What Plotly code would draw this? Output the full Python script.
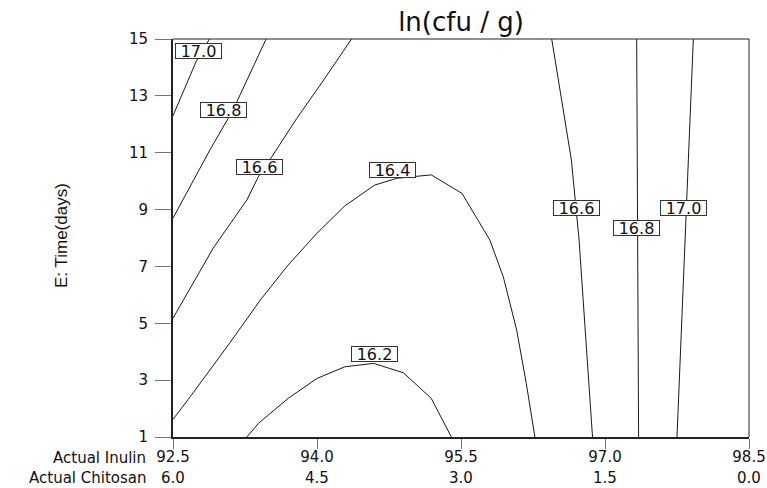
import plotly.graph_objects as go

# ---- data ----
inulin_ticks = [92.5, 94.0, 95.5, 97.0, 98.5]
inulin_tick_labels = ["92.5", "94.0", "95.5", "97.0", "98.5"]
chitosan_tick_labels = ["6.0", "4.5", "3.0", "1.5", "0.0"]
time_ticks = [1, 3, 5, 7, 9, 11, 13, 15]

# contour polylines (x = Actual Inulin, y = Time days)
c170_left_x = [92.50, 92.74, 92.88]
c170_left_y = [12.30, 14.20, 15.00]
c168_left_x = [92.50, 92.885, 93.125, 93.47]
c168_left_y = [8.70, 11.10, 12.50, 15.00]
c166_left_x = [92.50, 92.92, 93.27, 93.39, 93.53, 93.79, 94.07, 94.36]
c166_left_y = [5.18, 7.65, 9.34, 10.16, 10.86, 12.21, 13.56, 15.00]
c164_x = [92.50, 92.68, 93.09, 93.41, 93.70, 94.00, 94.29, 94.60, 94.83, 95.19,
          95.51, 95.80, 95.94, 96.08, 96.18, 96.27]
c164_y = [1.62, 2.42, 4.30, 5.82, 7.05, 8.17, 9.13, 9.86, 10.10, 10.22,
          9.57, 7.93, 6.64, 4.76, 2.89, 1.00]
c162_x = [93.27, 93.39, 93.70, 94.00, 94.29, 94.59, 94.90, 95.19, 95.40]
c162_y = [1.00, 1.48, 2.36, 3.06, 3.47, 3.59, 3.26, 2.36, 1.00]
c166_right_x = [96.445, 96.55, 96.65, 96.73, 96.79, 96.87]
c166_right_y = [15.00, 12.85, 10.74, 7.93, 5.00, 1.00]
c168_right_x = [97.33, 97.35]
c168_right_y = [15.00, 1.00]
c170_right_x = [97.92, 97.75]
c170_right_y = [15.00, 1.00]

# contour label texts and positions
label_text = ["17.0", "16.8", "16.6", "16.4", "16.2", "16.6", "16.8", "17.0"]
label_x = [92.77, 93.03, 93.40, 94.79, 94.60, 96.705, 97.325, 97.82]
label_y = [14.58, 12.50, 10.50, 10.39, 3.92, 9.07, 8.36, 9.07]

lines = [
    ("17.0", c170_left_x, c170_left_y),
    ("16.8", c168_left_x, c168_left_y),
    ("16.6", c166_left_x, c166_left_y),
    ("16.4", c164_x, c164_y),
    ("16.2", c162_x, c162_y),
    ("16.6", c166_right_x, c166_right_y),
    ("16.8", c168_right_x, c168_right_y),
    ("17.0", c170_right_x, c170_right_y),
]

FONT = "DejaVu Sans"

fig = go.Figure()
for name, xs, ys in lines:
    fig.add_trace(go.Scatter(x=xs, y=ys, mode="lines", name=name,
                             line=dict(color="#1a1a1a", width=1),
                             showlegend=False, hoverinfo="skip"))

annotations = []
for t, x, y in zip(label_text, label_x, label_y):
    annotations.append(dict(x=x, y=y, xref="x", yref="y", text=t, showarrow=False,
                            font=dict(family=FONT, size=16, color="#111"),
                            bgcolor="white", bordercolor="#333", borderwidth=1,
                            borderpad=0, width=45, height=14,
                            xanchor="center", yanchor="middle"))

# second row of x tick labels (Actual Chitosan)
ROW2_Y = -0.1281
for x, t in zip(inulin_ticks, chitosan_tick_labels):
    annotations.append(dict(x=x, y=ROW2_Y, xref="x", yref="paper", text=t,
                            showarrow=False, xanchor="center", yanchor="bottom",
                            borderpad=0,
                            font=dict(family=FONT, size=15, color="#111")))

annotations.append(dict(x=-0.046, y=-0.0528, xref="paper", yref="paper",
                        text="Actual Inulin", showarrow=False, xanchor="right",
                        yanchor="middle", borderpad=0,
                        font=dict(family=FONT, size=15, color="#111")))
annotations.append(dict(x=-0.046, y=ROW2_Y, xref="paper", yref="paper",
                        text="Actual Chitosan", showarrow=False, xanchor="right",
                        yanchor="bottom", borderpad=0,
                        font=dict(family=FONT, size=15, color="#111")))
annotations.append(dict(x=-0.1944, y=0.505, xref="paper", yref="paper",
                        text="E: Time(days)", showarrow=False, textangle=-90,
                        xanchor="center", yanchor="middle",
                        font=dict(family="Liberation Sans", size=17, color="#111")))

fig.update_layout(
    template="none",
    width=767, height=488, autosize=False,
    margin=dict(l=173, r=18, t=39, b=51),
    paper_bgcolor="white", plot_bgcolor="white",
    title=dict(text="ln(cfu / g)", x=0.5, xref="paper", y=0.955, yref="container",
               xanchor="center", yanchor="middle",
               font=dict(family=FONT, size=26, color="#111")),
    annotations=annotations,
    shapes=[
        dict(type="line", xref="paper", yref="paper", x0=0, x1=1, y0=1, y1=1,
             line=dict(color="#222", width=1)),
        dict(type="line", xref="paper", yref="paper", x0=1, x1=1, y0=0, y1=1,
             line=dict(color="#222", width=1)),
    ],
)
fig.update_xaxes(range=[92.5, 98.5], tickvals=inulin_ticks, ticktext=inulin_tick_labels,
                 automargin=False,
                 showgrid=False, zeroline=False, showline=True, linecolor="#222",
                 linewidth=2, ticks="outside", ticklen=10, tickcolor="#777",
                 tickwidth=1, ticklabelstandoff=-5,
                 tickfont=dict(family=FONT, size=15, color="#111"))
fig.update_yaxes(range=[1, 15], tickvals=time_ticks, showgrid=False, zeroline=False,
                 automargin=False,
                 showline=True, linecolor="#222", linewidth=2, ticks="outside",
                 ticklen=16, tickcolor="#777", tickwidth=1, ticklabelstandoff=4,
                 tickfont=dict(family=FONT, size=15, color="#111"))

fig.write_html("out.html",
               config=dict(displayModeBar=False, responsive=False),
               post_script="document.body.style.margin='0px';document.body.style.overflow='hidden';")
